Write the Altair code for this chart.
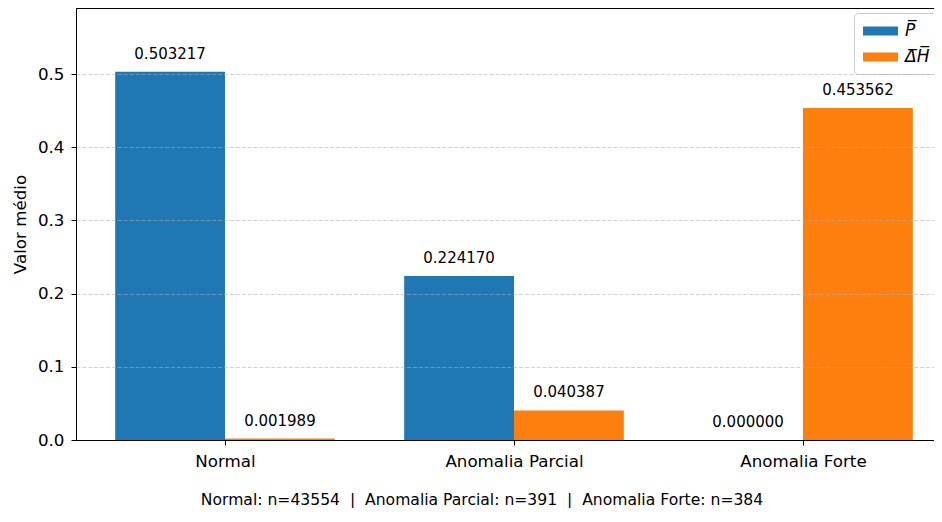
import altair as alt
import pandas as pd

categories = ["Normal", "Anomalia Parcial", "Anomalia Forte"]
p_mean = [0.503217, 0.224170, 0.000000]
dh_mean = [0.001989, 0.040387, 0.453562]
counts = [43554, 391, 384]
series_names = ["P\u0305", "\u0394\u0305H\u0305"]
colors = ["#1f77b4", "#ff7f0e"]
bar_w = 0.38

rows = []
for i, c in enumerate(categories):
    for s, vals in enumerate([p_mean, dh_mean]):
        x0 = i - bar_w if s == 0 else i
        x1 = x0 + bar_w
        rows.append(dict(idx=i, cat=c, series=series_names[s], order=s,
                         value=vals[i], x0=x0, x1=x1, xc=(x0 + x1) / 2,
                         label=f"{vals[i]:.6f}"))
df = pd.DataFrame(rows)

sep = "\u00a0\u00a0|\u00a0\u00a0"
caption = sep.join(f"{c}: n={n}" for c, n in zip(categories, counts))
cap_df = pd.DataFrame({"caption": [caption]})

W, H = 858, 432
FONT = "DejaVu Sans"
xscale = alt.Scale(domain=[-0.5156, 2.4533], nice=False, zero=False)
yscale = alt.Scale(domain=[0, 0.5902], nice=False)
label_expr = "[" + ",".join(f"'{c}'" for c in categories) + "][datum.value]"

bars = alt.Chart(df).mark_bar().encode(
    x=alt.X("x0:Q", scale=xscale,
            axis=alt.Axis(values=list(range(len(categories))), labelExpr=label_expr,
                          title=None, grid=False, labelFontSize=16.7, labelPadding=8)),
    x2="x1:Q",
    y=alt.Y("value:Q", scale=yscale,
            axis=alt.Axis(values=[0, 0.1, 0.2, 0.3, 0.4, 0.5], format=".1f",
                          title="Valor médio", grid=True, gridDash=[4.1, 1.8],
                          gridColor="#b0b0b0",
                          gridOpacity={"condition": {"test": "datum.value === 0", "value": 0},
                                       "value": 0.7},
                          gridWidth=0.8,
                          labelFontSize=16.7, titleFontSize=16.7,
                          titleFontWeight="normal", titlePadding=8,
                          labelPadding=7, zindex=1)),
    y2=alt.datum(0),
    color=alt.Color("series:N",
                    scale=alt.Scale(domain=series_names, range=colors),
                    legend=alt.Legend(title=None, orient="none", legendX=778, legendY=5,
                                      symbolType="M-1.944,-0.5H1.944V0.5H-1.944Z",
                                      symbolSize=324, symbolStrokeWidth=0,
                                      symbolOffset=8.5,
                                      labelFontSize=17, labelFontStyle="italic",
                                      labelOffset=15.5, strokeColor="#cccccc",
                                      fillColor="white", padding=9, cornerRadius=4,
                                      rowPadding=9, labelFont=FONT)),
)

labels = alt.Chart(df).mark_text(baseline="alphabetic", dy=-13, fontSize=15,
                                 font=FONT, color="black").encode(
    x=alt.X("xc:Q", scale=xscale),
    y=alt.Y("value:Q", scale=yscale),
    text="label:N",
)

cap = alt.Chart(cap_df).mark_text(fontSize=15.6, font=FONT, color="black",
                                  baseline="alphabetic", align="center").encode(
    x=alt.value(406),
    y=alt.value(497),
    text="caption:N",
)

chart = alt.layer(bars, labels, cap).properties(
    width=W, height=H,
    autosize=alt.AutoSizeParams(type="none"),
    padding={"left": 68, "top": 0, "right": 0, "bottom": 68},
).configure(font=FONT).configure_view(
    stroke="black", strokeWidth=1
).configure_axis(
    domainColor="black", tickColor="black", tickSize=5, labelColor="black",
    titleColor="black", labelFont=FONT, titleFont=FONT, domainWidth=1
)

chart.save("out.html", embed_options={"renderer": "svg", "actions": False})
